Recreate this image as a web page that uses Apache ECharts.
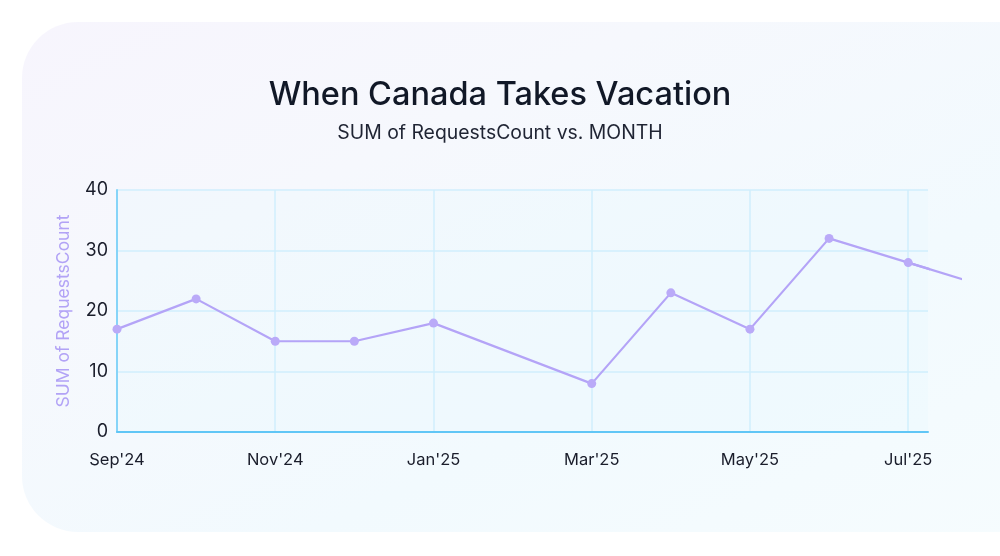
<!DOCTYPE html>
<html>
<head>
<meta charset="utf-8">
<script src="https://cdn.jsdelivr.net/npm/echarts@6/dist/echarts.min.js"></script>
<style>
  html, body { margin: 0; padding: 0; width: 1000px; height: 556px; background: #ffffff; overflow: hidden; }
  #card {
    position: absolute; left: 22px; top: 22px; width: 1040px; height: 510px;
    border-radius: 56px;
    background: linear-gradient(155deg, #f7f5fd 0%, #f6f8fd 30%, #f2fafe 65%, #f6fcfe 100%);
  }
  #chart { position: absolute; left: 0; top: 0; width: 1000px; height: 556px; }
</style>
</head>
<body>
<div id="card"></div>
<div id="chart"></div>
<script>
// Data (Feb'25 has no point in the source: the line runs straight from Jan to Mar)
const months = ["Sep'24", "Oct'24", "Nov'24", "Dec'24", "Jan'25", "Feb'25", "Mar'25", "Apr'25", "May'25", "Jun'25", "Jul'25", "Aug'25"];
const requestsCount = [17, 22, 15, 15, 18, null, 8, 23, 17, 32, 28, 24];
const yTicks = [0, 10, 20, 30, 40];
</script>
<script>
const seriesData = requestsCount.map((v, i) => [i, v]);
const tailData = seriesData.slice(-2);

const W = 1000;
const gridLeft = 117, gridRight = 72, gridTop = 190, gridBottom = 124;
const xMax = 10.25;
// second (invisible) grid with the same scale, reaching to x=960, where the line is cut off
const tailRight = 40;
const xMax2 = xMax * (W - tailRight - gridLeft) / (W - gridRight - gridLeft);

const chart = echarts.init(document.getElementById('chart'), null, { renderer: 'canvas' });
const font = 'Inter, "Noto Sans", sans-serif';

chart.setOption({
  animation: false,
  backgroundColor: 'transparent',
  title: {
    text: 'When Canada Takes Vacation',
    subtext: 'SUM of RequestsCount vs. MONTH',
    left: 'center',
    top: 74,
    itemGap: 12,
    textStyle: { fontFamily: font, fontSize: 32.5, fontWeight: 500, color: '#111827' },
    subtextStyle: { fontFamily: font, fontSize: 19.4, fontWeight: 400, color: '#1f2433' }
  },
  grid: [{
    left: gridLeft, right: gridRight, top: gridTop, bottom: gridBottom,
    show: true, backgroundColor: 'rgba(232,249,255,0.3)', borderWidth: 0
  }, {
    left: gridLeft, right: tailRight, top: gridTop, bottom: gridBottom,
    show: false
  }],
  xAxis: [{
    type: 'value', gridIndex: 0,
    min: 0, max: xMax, interval: 2,
    axisLine: { show: true, lineStyle: { color: '#60c6f6', width: 2 } },
    axisTick: { show: false },
    splitLine: { show: true, showMinLine: false, showMaxLine: false, lineStyle: { color: '#d0eefc', width: 1.5 } },
    axisLabel: {
      showMaxLabel: false,
      margin: 20,
      fontFamily: font, fontSize: 16.5, color: '#1a1d2b',
      formatter: function (v) { return Number.isInteger(v) ? months[v] : ''; }
    }
  }, {
    type: 'value', gridIndex: 1, min: 0, max: xMax2, show: false
  }],
  yAxis: [{
    type: 'value', gridIndex: 0,
    min: yTicks[0], max: yTicks[yTicks.length - 1], interval: 10,
    name: 'SUM of RequestsCount',
    nameLocation: 'middle',
    nameGap: 44,
    nameTextStyle: { fontFamily: font, fontSize: 17.5, color: '#b2a3f6' },
    axisLine: { show: true, lineStyle: { color: '#86d4f8', width: 2 } },
    axisTick: { show: false },
    splitLine: { show: true, lineStyle: { color: '#d0eefc', width: 1.5 } },
    axisLabel: { margin: 9, fontFamily: font, fontSize: 18, color: '#1a1d2b' }
  }, {
    type: 'value', gridIndex: 1, min: yTicks[0], max: yTicks[yTicks.length - 1], show: false
  }],
  series: [{
    type: 'line',
    xAxisIndex: 0, yAxisIndex: 0,
    data: seriesData,
    connectNulls: true,
    symbol: 'circle',
    symbolSize: 9,
    lineStyle: { color: '#b4a4f7', width: 2.2 },
    itemStyle: { color: '#baaaf8' },
    z: 3
  }, {
    type: 'line',
    xAxisIndex: 1, yAxisIndex: 1,
    data: tailData,
    symbol: 'none',
    lineStyle: { color: '#b4a4f7', width: 2.2 },
    z: 2,
    silent: true
  }]
});
</script>
</body>
</html>
